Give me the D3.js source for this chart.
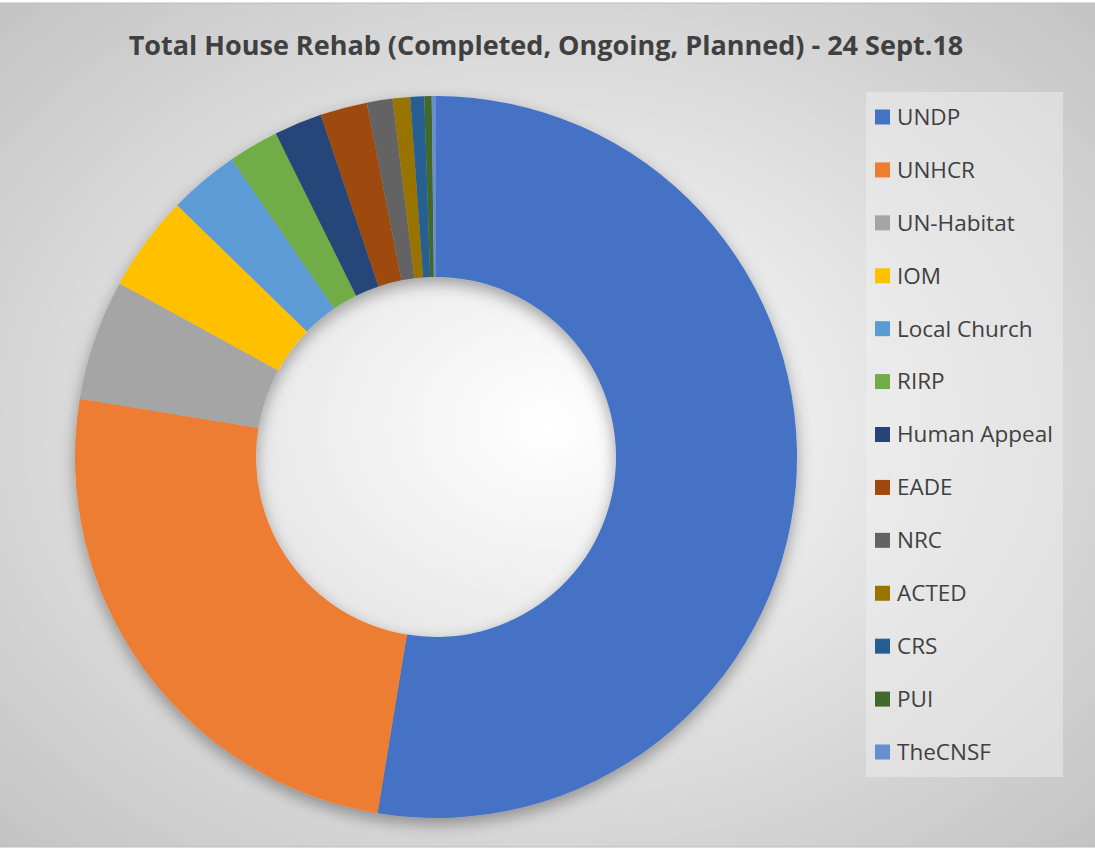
<!DOCTYPE html>
<html>
<head>
<meta charset="utf-8">
<script src="https://cdn.jsdelivr.net/npm/d3@7"></script>
<style>
  body { margin: 0; background: #fff; }
  text { font-family: "Open Sans", "Noto Sans", sans-serif; fill: #404040; }
</style>
</head>
<body>
<div id="chart"></div>
<script>
const categories = ["UNDP", "UNHCR", "UN-Habitat", "IOM", "Local Church", "RIRP", "Human Appeal",
    "EADE", "NRC", "ACTED", "CRS", "PUI", "TheCNSF"]
const shares = [52.6, 25.0, 5.4, 4.3, 3.15, 2.25, 2.15, 2.1, 1.15, 0.78, 0.62, 0.33, 0.19]
const colors = ["#4472C4", "#ED7D31", "#A5A5A5", "#FFC000", "#5B9BD5", "#70AD47", "#264478",
    "#9E480E", "#636363", "#997300", "#255E91", "#43682B", "#698ED0"]
const title = "Total House Rehab (Completed, Ongoing, Planned) - 24 Sept.18"

const width = 1095, height = 849
const cx = 436, cy = 457, outerR = 361, innerR = 180

const data = categories.map((c, i) => ({name: c, value: shares[i]}))

const svg = d3.select("#chart").append("svg")
    .attr("width", width)
    .attr("height", height)

const defs = svg.append("defs")
const grad = defs.append("radialGradient")
    .attr("id", "bg")
    .attr("cx", "50%").attr("cy", "50%").attr("r", "70%")
grad.append("stop").attr("offset", "0%").attr("stop-color", "#ffffff")
grad.append("stop").attr("offset", "100%").attr("stop-color", "#c4c4c4")

const shadow = defs.append("filter").attr("id", "shadow")
    .attr("x", "-20%").attr("y", "-20%").attr("width", "140%").attr("height", "140%")
shadow.append("feGaussianBlur").attr("in", "SourceAlpha").attr("stdDeviation", 8)
shadow.append("feOffset").attr("dx", 0).attr("dy", 6).attr("result", "blur")
shadow.append("feComponentTransfer").append("feFuncA").attr("type", "linear").attr("slope", 0.35)
const merge = shadow.append("feMerge")
merge.append("feMergeNode")
merge.append("feMergeNode").attr("in", "SourceGraphic")

svg.append("rect")
    .attr("x", -1).attr("y", 3)
    .attr("width", width + 2).attr("height", 844)
    .style("fill", "url(#bg)")
    .style("stroke", "#bdbdbd")

svg.append("text")
    .attr("x", 546).attr("y", 55)
    .attr("text-anchor", "middle")
    .style("font-size", "27px")
    .style("font-weight", "bold")
    .text(title)

const pie = d3.pie().sort(null).value(d => d.value)
const arc = d3.arc().innerRadius(innerR).outerRadius(outerR)

const g = svg.append("g")
    .attr("transform", "translate(" + cx + "," + cy + ")")
    .attr("filter", "url(#shadow)")

g.selectAll(".slice")
    .data(pie(data))
    .enter().append("path")
    .attr("class", "slice")
    .attr("d", arc)
    .style("fill", (d, i) => colors[i])

// legend
const legend = svg.append("g").attr("transform", "translate(866,92)")
legend.append("rect")
    .attr("width", 197).attr("height", 685)
    .style("fill", "#f2f2f2").style("fill-opacity", 0.45)

const ly = d3.scalePoint().domain(categories).range([25, 660])

const item = legend.selectAll(".item")
    .data(categories)
    .enter().append("g")
    .attr("class", "item")
    .attr("transform", d => "translate(0," + ly(d) + ")")

item.append("rect")
    .attr("x", 9).attr("y", -7.5)
    .attr("width", 15).attr("height", 15)
    .style("fill", (d, i) => colors[i])

item.append("text")
    .attr("x", 31).attr("y", 0)
    .attr("dy", "0.35em")
    .style("font-size", "22.5px")
    .text(d => d)
</script>
</body>
</html>
